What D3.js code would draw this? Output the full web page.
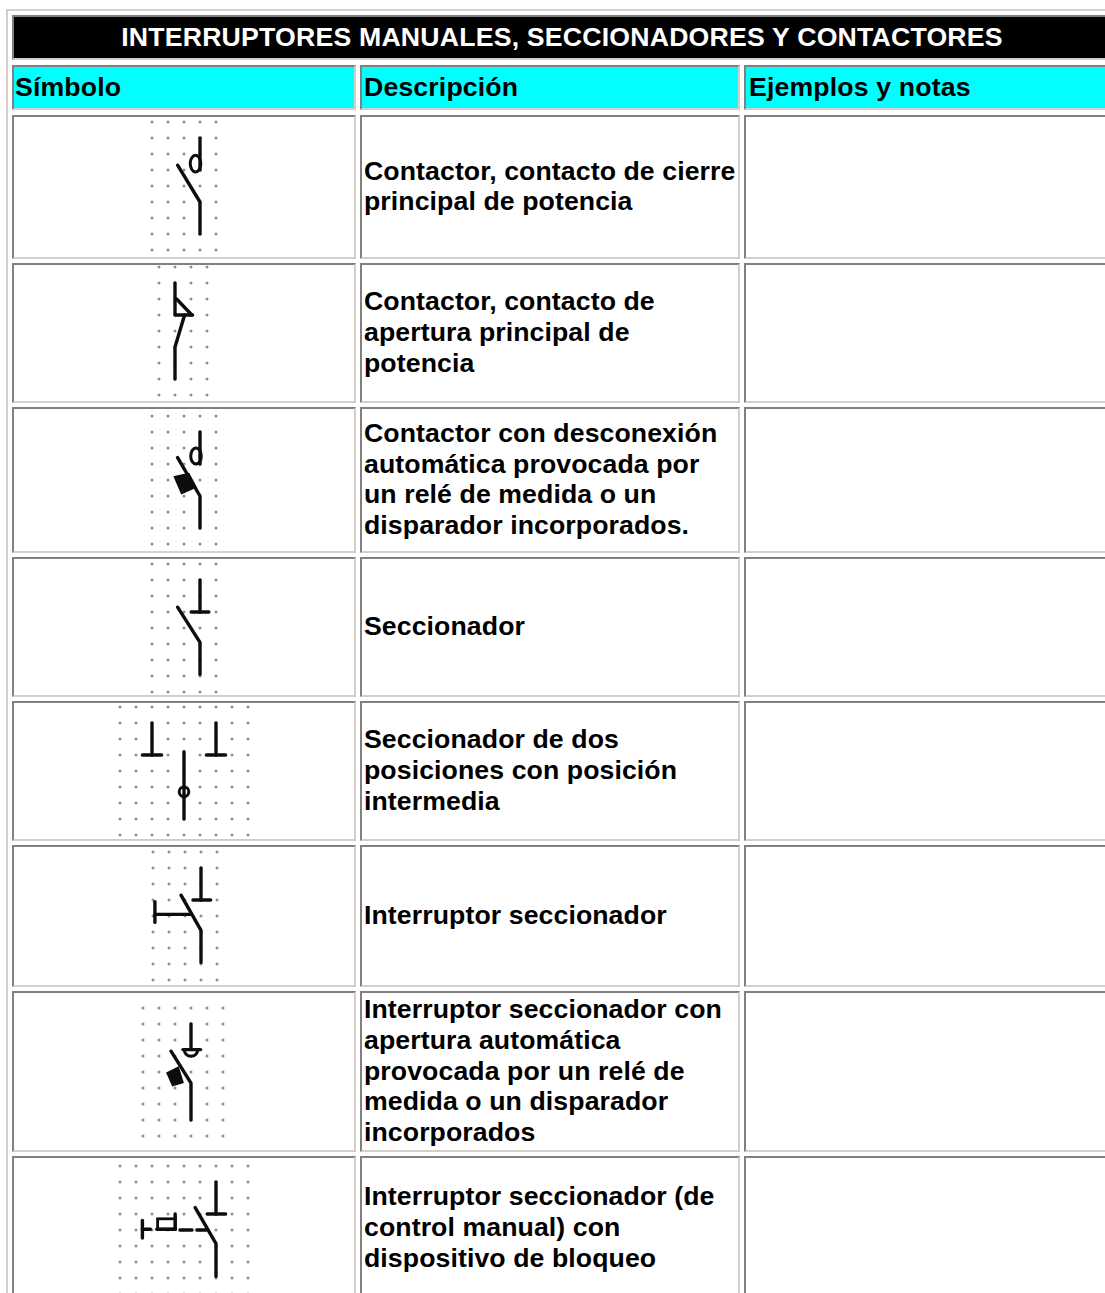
<!DOCTYPE html>
<html>
<head>
<meta charset="utf-8">
<script src="https://cdn.jsdelivr.net/npm/d3@7"></script>
<style>
  html, body { margin: 0; padding: 0; background: #fff; overflow: hidden; }
  text { font-family: "Liberation Sans", Arial, sans-serif; font-weight: bold; font-size: 26.67px; letter-spacing: 0.09px; }
  text.title { letter-spacing: 0.2px; }
  text.head { letter-spacing: 0.15px; }
</style>
</head>
<body>
<script>
const title = "INTERRUPTORES MANUALES, SECCIONADORES Y CONTACTORES";
const headers = ["Símbolo", "Descripción", "Ejemplos y notas"];
const descriptions = [
  ["Contactor, contacto de cierre", "principal de potencia"],
  ["Contactor, contacto de", "apertura principal de", "potencia"],
  ["Contactor con desconexión", "automática provocada por", "un relé de medida o un", "disparador incorporados."],
  ["Seccionador"],
  ["Seccionador de dos", "posiciones con posición", "intermedia"],
  ["Interruptor seccionador"],
  ["Interruptor seccionador con", "apertura automática", "provocada por un relé de", "medida o un disparador", "incorporados"],
  ["Interruptor seccionador (de", "control manual) con", "dispositivo de bloqueo"],
];

// symbol geometry in units of the dot grid: [columns, rows]
const gridSizes = [[5, 9], [4, 9], [5, 9], [5, 9], [9, 9], [5, 9], [6, 9], [9, 9]];
// open strokes, one list of [col, row] per stroke
const strokes = [
  [[[1.6, 2.7], [3, 5], [3, 7]], [[3, 1], [3, 3]]],
  [[[1, 1], [1, 3], [2.1, 3]], [[1.1, 2], [2.05, 3]], [[1.6, 3], [1, 5], [1, 7]]],
  [[[1.6, 2.6], [3, 5], [3, 7]], [[3, 1], [3, 3]]],
  [[[1.6, 2.7], [3, 4.9], [3, 6.9]], [[3, 1], [3, 3]], [[2.45, 3], [3.55, 3]]],
  [[[2, 1], [2, 3]], [[1.4, 3], [2.6, 3]], [[6, 1], [6, 3]], [[5.4, 3], [6.6, 3]], [[4, 2.8], [4, 7]]],
  [[[1.75, 2.7], [3, 4.9], [3, 6.9]], [[3, 1], [3, 3]], [[2.5, 3], [3.6, 3]], [[0.12, 3.1], [0.12, 4.4]], [[0.12, 3.9], [2.35, 3.9]]],
  [[[1.75, 2.7], [3, 4.7], [3, 7]], [[3, 1], [3, 2.6]], [[2.5, 2.6], [3.6, 2.6]]],
  [[[4.7, 2.6], [6, 4.85], [6, 6.9]], [[6, 1], [6, 3]], [[5.45, 3], [6.6, 3]], [[1.4, 3.4], [1.4, 4.5]], [[1.4, 3.95], [1.9, 3.95]], [[2.3, 3.95], [3.45, 3.95]], [[3.45, 3.95], [3.45, 3]], [[3.75, 4], [4.5, 4]], [[4.8, 4], [5.4, 4]]],
];
// filled blocks on the moving contact
const blocks = [
  [],
  [],
  [[1.4, 3.8], [2.3, 3.6], [2.75, 4.45], [1.85, 4.85]],
  [],
  [],
  [],
  [[1.5, 4.05], [2.2, 3.7], [2.5, 4.65], [1.85, 4.85]],
  [],
];
// open loops: d contact, circle; centre col, row, radii
const ellipses = [
  [[2.72, 2.6, 0.33, 0.52]],
  [],
  [[2.75, 2.5, 0.33, 0.5]],
  [],
  [[4, 5.3, 0.3, 0.3]],
  [],
  [],
  [],
];
const arcs = [[], [], [], [], [], [], [[3, 2.6, 0.42, 0.42]], []];
const boxes = [[], [], [], [], [], [], [], [[2.35, 3.3, 1.1, 0.65]]];

// page layout
const W = 1105, H = 1293;
const columns = [[12, 356], [360, 740], [744, 1125]];
const rowEdges = [[115, 259], [263, 403], [407, 553], [557, 697], [701, 841], [845, 987], [991, 1152], [1156, 1320]];
const gridOrigins = [[152, 122], [159, 267], [152, 416], [152, 564], [120, 707], [153, 852], [143, 1008], [120, 1166]];
const headerX = [15, 364, 749];
const gridStep = 16;
const lineHeight = 30.67;
const light = "#d4d0c8", dark = "#808080", ink = "#0c0c0c";

const svg = d3.select("body").append("svg").attr("width", W).attr("height", H).style("display", "block");
svg.append("defs").append("filter").attr("id", "soft")
  .attr("x", "-10%").attr("y", "-10%").attr("width", "120%").attr("height", "120%")
  .append("feGaussianBlur").attr("stdDeviation", 0.7);

// outer table border
svg.append("rect").attr("x", 6).attr("y", 9).attr("width", W).attr("height", 2).attr("fill", light);
svg.append("rect").attr("x", 6).attr("y", 9).attr("width", 2).attr("height", H).attr("fill", light);

function cell(x0, y0, x1, y1, fill) {
  svg.append("rect").attr("x", x0).attr("y", y0).attr("width", x1 - x0).attr("height", y1 - y0).attr("fill", light);
  svg.append("path").attr("fill", dark)
    .attr("d", `M${x0},${y1}V${y0}H${x1}L${x1 - 2},${y0 + 2}H${x0 + 2}V${y1 - 2}Z`);
  svg.append("rect").attr("x", x0 + 2).attr("y", y0 + 2).attr("width", x1 - x0 - 4).attr("height", y1 - y0 - 4).attr("fill", fill);
}

// title row
cell(12, 15, 1125, 60, "#000");
svg.append("text").attr("class", "title").attr("x", 562).attr("y", 46).attr("text-anchor", "middle").attr("fill", "#fff").text(title);

// header row
headers.forEach((h, i) => {
  cell(columns[i][0], 65, columns[i][1], 110, "#0ff");
  svg.append("text").attr("class", "head").attr("x", headerX[i]).attr("y", 96).attr("fill", "#000").text(h);
});

// body rows
descriptions.forEach((lines, r) => {
  const [top, bottom] = rowEdges[r];
  columns.forEach((c) => cell(c[0], top, c[1], bottom, "#fff"));
  const mid = r === 7 ? 1228 : (top + bottom) / 2;
  svg.selectAll(null).data(lines).enter().append("text")
    .attr("x", columns[1][0] + 4)
    .attr("y", (d, i) => mid + (i - (lines.length - 1) / 2) * lineHeight + 8)
    .attr("fill", "#000")
    .text((d) => d);
});

// symbols
const line = d3.line();
gridSizes.forEach(([cols, rows], s) => {
  const [ox, oy] = gridOrigins[s];
  const x = d3.scaleLinear().domain([0, 1]).range([ox, ox + gridStep]);
  const y = d3.scaleLinear().domain([0, 1]).range([oy, oy + gridStep]);
  const g = svg.append("g").attr("filter", "url(#soft)");

  g.selectAll("circle.dot").data(d3.cross(d3.range(cols), d3.range(rows))).enter().append("circle")
    .attr("class", "dot")
    .attr("cx", (d) => x(d[0]))
    .attr("cy", (d) => y(d[1]))
    .attr("r", 1.5)
    .attr("fill", "#8b9094");

  g.selectAll("path.stroke").data(strokes[s]).enter().append("path")
    .attr("class", "stroke")
    .attr("d", (d) => line(d.map((p) => [x(p[0]), y(p[1])])))
    .attr("fill", "none")
    .attr("stroke", ink)
    .attr("stroke-width", 3.4)
    .attr("stroke-linecap", "round")
    .attr("stroke-linejoin", "round");

  if (blocks[s].length) {
    g.append("path")
      .attr("d", line(blocks[s].map((p) => [x(p[0]), y(p[1])])) + "Z")
      .attr("fill", ink).attr("stroke", ink).attr("stroke-width", 1.5);
  }

  g.selectAll("ellipse").data(ellipses[s]).enter().append("ellipse")
    .attr("cx", (d) => x(d[0]))
    .attr("cy", (d) => y(d[1]))
    .attr("rx", (d) => x(d[2]) - x(0))
    .attr("ry", (d) => y(d[3]) - y(0))
    .attr("fill", "none")
    .attr("stroke", ink)
    .attr("stroke-width", 3);

  arcs[s].forEach((a) => {
    const arc = d3.arc().innerRadius(x(a[2]) - x(0)).outerRadius(x(a[2]) - x(0)).startAngle(Math.PI / 2).endAngle(Math.PI * 1.5);
    g.append("path")
      .attr("transform", `translate(${x(a[0])},${y(a[1])})`)
      .attr("d", arc())
      .attr("fill", "none")
      .attr("stroke", ink)
      .attr("stroke-width", 3);
  });

  g.selectAll("rect.box").data(boxes[s]).enter().append("rect")
    .attr("class", "box")
    .attr("x", (d) => x(d[0]))
    .attr("y", (d) => y(d[1]))
    .attr("width", (d) => x(d[2]) - x(0))
    .attr("height", (d) => y(d[3]) - y(0))
    .attr("fill", "none")
    .attr("stroke", ink)
    .attr("stroke-width", 2.8);
});
</script>
</body>
</html>
